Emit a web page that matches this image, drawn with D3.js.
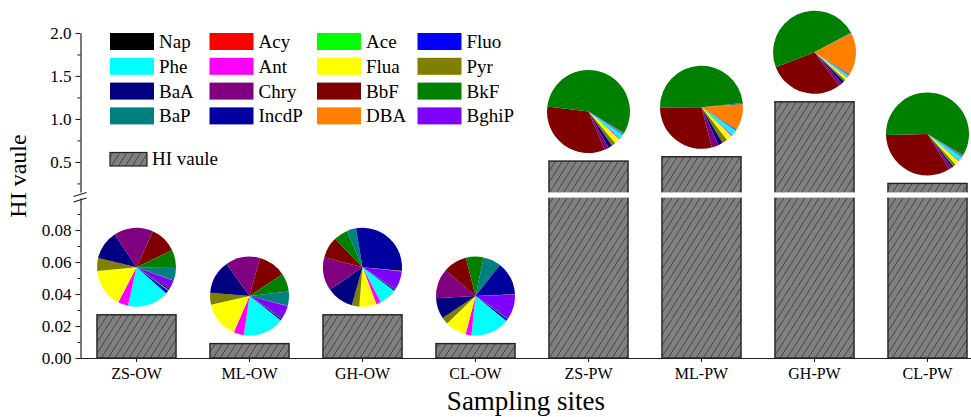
<!doctype html>
<html>
<head>
<meta charset="utf-8">
<script src="https://cdn.jsdelivr.net/npm/d3@7"></script>
<style>
body { margin: 0; background: #fff; }
svg { font-family: "Liberation Serif", "Times New Roman", serif; }
</style>
</head>
<body>
<svg id="chart" width="971" height="417"></svg>
<script>
// sites and HI values
var sites = ["ZS-OW", "ML-OW", "GH-OW", "CL-OW", "ZS-PW", "ML-PW", "GH-PW", "CL-PW"];
var hiValues = [0.027, 0.009, 0.027, 0.009, 0.51, 0.56, 1.20, 0.25];

// PAH compounds in pie order
var pahNames = ["Nap", "Acy", "Ace", "Fluo", "Phe", "Ant", "Flua", "Pyr",
                "BaA", "Chry", "BbF", "BkF", "BaP", "IncdP", "DBA", "BghiP"];
var pahColors = ["#000000", "#ff0000", "#00ff00", "#0000ff", "#00ffff", "#ff00ff", "#ffff00", "#808000",
                 "#000080", "#800080", "#800000", "#008000", "#008080", "#0000a0", "#ff8000", "#8000ff"];

// share of each PAH in the HI of each site (relative units)
var zsOW = [2, 0.5, 1, 5, 61, 15, 57, 19, 43, 58, 40, 25, 20, 0.3, 0.3, 13];
var mlOW = [1.5, 0.3, 0.5, 2.7, 60.5, 15, 54, 17.5, 50, 50.7, 41.3, 27, 20.8, 0.3, 0.3, 18.2];
var ghOW = [1, 0.3, 0.3, 2.4, 25.6, 6.8, 25.4, 10.9, 40, 49, 31.5, 21, 13.5, 105, 0.5, 27];
var clOW = [1.5, 0.3, 0.5, 3.7, 57, 8.6, 31.5, 10.2, 30.7, 44, 35, 26, 26.4, 49.2, 0.3, 35.3];
var zsPW = [0.3, 0.2, 0.2, 0.8, 6, 1.5, 8, 5.5, 5.6, 6, 120, 204, 0.8, 0.4, 0.4, 0.4];
var mlPW = [0.3, 0.2, 0.2, 0.8, 8, 1.5, 8, 7.6, 6.4, 9.7, 104, 174.5, 1, 0.5, 36.5, 0.8];
var ghPW = [0.3, 0.2, 0.2, 0.7, 3, 1, 3.5, 3, 4, 5, 105, 173, 0.6, 0.4, 60, 0.5];
var clPW = [0.3, 0.2, 0.2, 0.8, 6, 1, 6, 4, 3, 4, 120, 212.3, 0.8, 0.5, 0.4, 0.5];
var pieShares = [zsOW, mlOW, ghOW, clOW, zsPW, mlPW, ghPW, clPW];

var svg = d3.select("#chart");
var axisLeftX = 80.5;
var baseY = 358;
var lowMax = 0.1, highMin = 0.15;

var x = d3.scaleBand().domain(sites).range([80, 984])
    .paddingInner(0.3).paddingOuter(0.15);
var yLow = d3.scaleLinear().domain([0, lowMax]).range([baseY, 198]);
var yHigh = d3.scaleLinear().domain([highMin, 2.0]).range([192, 33]);

function yOf(v) { return v <= lowMax ? yLow(v) : yHigh(v); }

// hatch pattern
var defs = svg.append("defs");
var pat = defs.append("pattern").attr("id", "hatch")
    .attr("patternUnits", "userSpaceOnUse").attr("width", 7).attr("height", 11);
pat.append("rect").attr("width", 7).attr("height", 11).attr("fill", "#808080");
pat.append("path").attr("d", "M-0.7,12.1 L7.7,-1.1")
    .attr("stroke", "#333").attr("stroke-width", 0.8);

// bars
var bars = svg.append("g");
hiValues.forEach(function(v, i) {
    var bx = x(sites[i]), bw = x.bandwidth();
    if (v <= lowMax) {
        bars.append("rect").attr("x", bx).attr("y", yLow(v))
            .attr("width", bw).attr("height", yLow(0) - yLow(v))
            .attr("fill", "url(#hatch)").attr("stroke", "#222").attr("stroke-width", 1.4);
    } else {
        bars.append("rect").attr("x", bx).attr("y", yHigh(v))
            .attr("width", bw).attr("height", yHigh(highMin) + 2 - yHigh(v))
            .attr("fill", "url(#hatch)").attr("stroke", "#222").attr("stroke-width", 1.4);
        bars.append("rect").attr("x", bx).attr("y", yLow(lowMax) - 2)
            .attr("width", bw).attr("height", yLow(0) - yLow(lowMax) + 2)
            .attr("fill", "url(#hatch)").attr("stroke", "#222").attr("stroke-width", 1.4);
        // break gap
        bars.append("rect").attr("x", bx - 2).attr("y", yHigh(highMin) + 0.5)
            .attr("width", bw + 4).attr("height", yLow(lowMax) - yHigh(highMin) - 1)
            .attr("fill", "#fff");
        [yHigh(highMin) + 0.5, yLow(lowMax) - 0.5].forEach(function(yy) {
            bars.append("line").attr("x1", bx).attr("x2", bx + bw)
                .attr("y1", yy).attr("y2", yy)
                .attr("stroke", "#c8c8c8").attr("stroke-width", 0.8);
        });
    }
});

// pies
var arc = d3.arc().innerRadius(0);
var pie = d3.pie().sort(null)
    .startAngle(123 * Math.PI / 180).endAngle(483 * Math.PI / 180);
hiValues.forEach(function(v, i) {
    var r = v > lowMax ? 41.5 : 39.5;
    var cx = x(sites[i]) + x.bandwidth() / 2;
    var cy = yOf(v) - 8 - r;
    svg.append("g").attr("transform", "translate(" + cx + "," + cy + ")")
        .selectAll("path").data(pie(pieShares[i])).enter().append("path")
        .attr("d", function(d) { return arc.outerRadius(r)(d); })
        .attr("fill", function(d, j) { return pahColors[j]; });
});

// axes
function styleAxis(g, size) {
    g.selectAll(".domain").attr("stroke", "#222").attr("stroke-width", 1.2);
    g.selectAll(".tick line").attr("stroke", "#222").attr("stroke-width", 1.1);
    g.selectAll("text").attr("fill", "#000").style("font-size", size + "px")
        .style("font-family", "'Liberation Serif', 'Times New Roman', serif");
}

var gx = svg.append("g").attr("transform", "translate(0," + baseY + ")")
    .call(d3.axisBottom(x).tickSize(4).tickSizeOuter(0).tickPadding(6));
styleAxis(gx, 16);

var gyLow = svg.append("g").attr("transform", "translate(" + axisLeftX + ",0)")
    .call(d3.axisLeft(yLow).tickValues([0, 0.02, 0.04, 0.06, 0.08])
        .tickFormat(d3.format(".2f")).tickSize(5).tickSizeOuter(0).tickPadding(4));
styleAxis(gyLow, 17);
gyLow.append("g").call(d3.axisLeft(yLow).tickValues([0.01, 0.03, 0.05, 0.07, 0.09])
    .tickFormat("").tickSize(3).tickSizeOuter(0))
    .call(function(g) { g.select(".domain").remove(); styleAxis(g, 17); });

var gyHigh = svg.append("g").attr("transform", "translate(" + axisLeftX + ",0)")
    .call(d3.axisLeft(yHigh).tickValues([0.5, 1.0, 1.5, 2.0])
        .tickFormat(d3.format(".1f")).tickSize(5).tickSizeOuter(0).tickPadding(4));
styleAxis(gyHigh, 17);
gyHigh.append("g").call(d3.axisLeft(yHigh).tickValues([0.25, 0.75, 1.25, 1.75])
    .tickFormat("").tickSize(3).tickSizeOuter(0))
    .call(function(g) { g.select(".domain").remove(); styleAxis(g, 17); });

// axis break marks
[196.5, 202].forEach(function(yy) {
    svg.append("line").attr("x1", axisLeftX - 7).attr("y1", yy)
        .attr("x2", axisLeftX + 6).attr("y2", yy - 4)
        .attr("stroke", "#222").attr("stroke-width", 1.2);
});

// axis titles
svg.append("text").attr("x", 526).attr("y", 410).attr("text-anchor", "middle")
    .style("font-size", "27px").text("Sampling sites");
svg.append("text").attr("transform", "translate(26,176) rotate(-90)")
    .attr("text-anchor", "middle").style("font-size", "24px").text("HI vaule");

// legend
var colX = [110, 209.5, 317, 417.5];
var legend = svg.append("g");
pahNames.forEach(function(name, i) {
    var lx = colX[i % 4], ly = 33 + Math.floor(i / 4) * 24.8;
    legend.append("rect").attr("x", lx).attr("y", ly).attr("width", 44).attr("height", 17)
        .attr("fill", pahColors[i]);
    legend.append("text").attr("x", lx + 49).attr("y", ly + 15)
        .style("font-size", "19px").text(name);
});
legend.append("rect").attr("x", 110).attr("y", 152.5).attr("width", 37).attr("height", 13.5)
    .attr("fill", "url(#hatch)").attr("stroke", "#222").attr("stroke-width", 1.2);
legend.append("text").attr("x", 152).attr("y", 165).style("font-size", "19px").text("HI vaule");
</script>
</body>
</html>
